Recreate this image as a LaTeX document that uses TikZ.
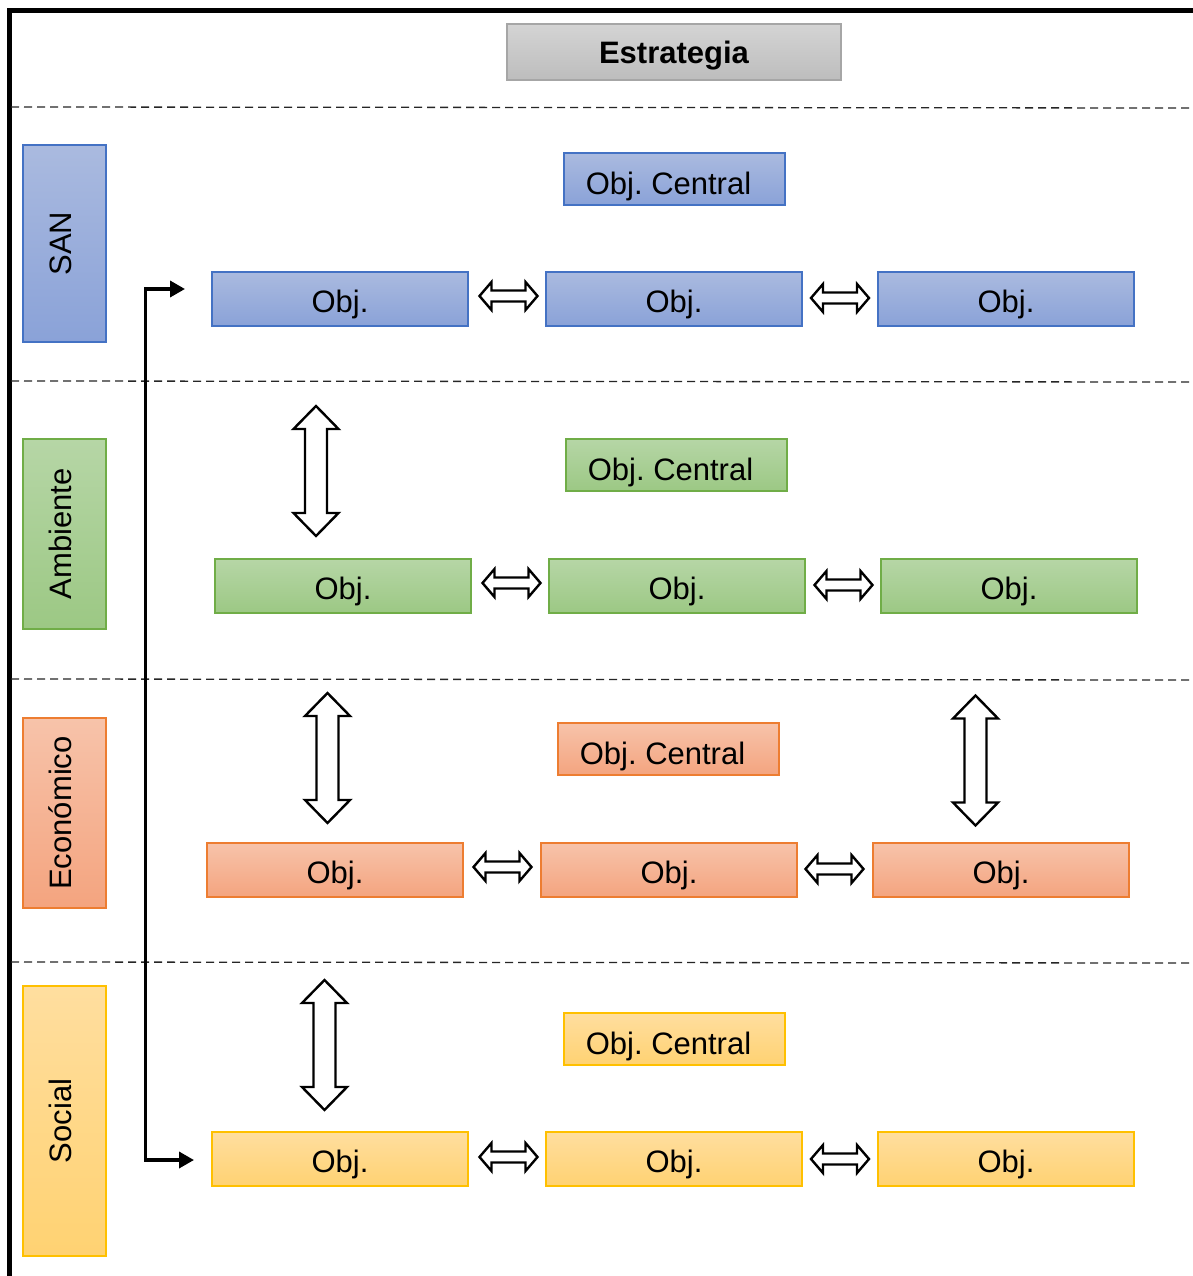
\documentclass[tikz,border=0pt]{standalone}
\usepackage{fontspec}
\setmainfont{Liberation Sans}
\usetikzlibrary{arrows.meta}
\frenchspacing
\definecolor{bluetop}{HTML}{AABADF}
\definecolor{bluebot}{HTML}{8AA2D8}
\definecolor{blueline}{HTML}{4472C4}
\definecolor{greentop}{HTML}{B6D6A6}
\definecolor{greenbot}{HTML}{9CC884}
\definecolor{greenline}{HTML}{70AD47}
\definecolor{orangetop}{HTML}{F7C3AA}
\definecolor{orangebot}{HTML}{F4A47F}
\definecolor{orangeline}{HTML}{ED7D31}
\definecolor{yellowtop}{HTML}{FFDE9F}
\definecolor{yellowbot}{HTML}{FFD272}
\definecolor{yellowline}{HTML}{FFC000}
\definecolor{graytop}{HTML}{D4D4D4}
\definecolor{graybot}{HTML}{BDBDBD}
\definecolor{grayline}{HTML}{A6A6A6}
\newcommand{\bigfont}{\fontsize{31}{37}\selectfont}
\tikzset{
  basebox/.style={rectangle, line width=1.4pt, inner sep=0pt, font=\bigfont, text=black},
  objbox/.style={basebox, minimum width=256, minimum height=54, text height=26pt, text depth=0pt},
  centralbox/.style={basebox, minimum width=221, minimum height=52, text height=30pt, text depth=0pt},
  sidebox/.style={basebox, minimum width=83},
  blueset/.style={draw=blueline, top color=bluetop, bottom color=bluebot},
  greenset/.style={draw=greenline, top color=greentop, bottom color=greenbot},
  orangeset/.style={draw=orangeline, top color=orangetop, bottom color=orangebot},
  yellowset/.style={draw=yellowline, top color=yellowtop, bottom color=yellowbot},
  separator/.style={line width=1.3pt, black!85, dash pattern=on 8pt off 5pt},
  blockarrow/.style={draw=black, fill=white, line width=2.4pt, line join=miter},
  flowline/.style={line width=3.5pt, {Triangle[length=15pt,width=16pt]}-{Triangle[length=15pt,width=16pt]}},
  pics/harrow/.style={code={
    \path[blockarrow] (-29,0) -- (-17,-14) -- (-17,-5.5) -- (17,-5.5) -- (17,-14) -- (29,0)
      -- (17,14) -- (17,5.5) -- (-17,5.5) -- (-17,14) -- cycle;}},
  pics/varrow/.style={code={
    \path[blockarrow] (0,-65) -- (22.5,-42) -- (11,-42) -- (11,42) -- (22.5,42) -- (0,65)
      -- (-22.5,42) -- (-11,42) -- (-11,-42) -- (-22.5,-42) -- cycle;}}
}
\begin{document}
\begin{tikzpicture}[x=1pt,y=-1pt]
\useasboundingbox (0,0) rectangle (1192,1276);
\fill[white] (0,0) rectangle (1192,1276);

% frame
\draw[line width=5pt] (9,1280) -- (9,10.5) -- (1196,10.5);

% separators
\draw[separator] (11,107) -- (1192,108);
\draw[separator] (11,381) -- (1192,382);
\draw[separator] (11,679) -- (1192,680);
\draw[separator] (11,962) -- (1192,963);

% title
\node[basebox, draw=grayline, top color=graytop, bottom color=graybot,
      minimum width=334, minimum height=56, text height=22.2pt, text depth=0pt,
      font=\bigfont\bfseries] (estr) at (674,52) {Estrategia};

% side labels
\node[sidebox, blueset, minimum height=197] (san) at (64.5,243.5) {\rotatebox{90}{\strut SAN}};
\node[sidebox, greenset, minimum height=190] (amb) at (64.5,534) {\rotatebox{90}{\strut Ambiente}};
\node[sidebox, orangeset, minimum height=190] (eco) at (64.5,813) {\rotatebox{90}{\strut Económico}};
\node[sidebox, yellowset, minimum height=270] (soc) at (64.5,1121) {\rotatebox{90}{\strut Social}};

% central objectives
\node[centralbox, blueset] (c1) at (674.5,179) {Obj. Central\hspace*{12pt}};
\node[centralbox, greenset] (c2) at (676.5,465) {Obj. Central\hspace*{12pt}};
\node[centralbox, orangeset] (c3) at (668.5,749) {Obj. Central\hspace*{12pt}};
\node[centralbox, yellowset] (c4) at (674.5,1039) {Obj. Central\hspace*{12pt}};

% objective rows
\node[objbox, blueset] (o11) at (340,299) {Obj.};
\node[objbox, blueset] (o12) at (674,299) {Obj.};
\node[objbox, blueset] (o13) at (1006,299) {Obj.};
\node[objbox, greenset] (o21) at (343,586) {Obj.};
\node[objbox, greenset] (o22) at (677,586) {Obj.};
\node[objbox, greenset] (o23) at (1009,586) {Obj.};
\node[objbox, orangeset] (o31) at (335,870) {Obj.};
\node[objbox, orangeset] (o32) at (669,870) {Obj.};
\node[objbox, orangeset] (o33) at (1001,870) {Obj.};
\node[objbox, yellowset] (o41) at (340,1159) {Obj.};
\node[objbox, yellowset] (o42) at (674,1159) {Obj.};
\node[objbox, yellowset] (o43) at (1006,1159) {Obj.};

% horizontal block arrows
\pic at (508.5,296) {harrow};
\pic at (840,298) {harrow};
\pic at (511.5,583) {harrow};
\pic at (843.5,585) {harrow};
\pic at (502.5,867) {harrow};
\pic at (834.5,869) {harrow};
\pic at (508.5,1157) {harrow};
\pic at (840,1159) {harrow};

% vertical block arrows
\pic at (316,471) {varrow};
\pic at (327.5,758) {varrow};
\pic at (975.5,760.5) {varrow};
\pic at (324.5,1045) {varrow};

% connector
\coordinate (ctop) at (185,289);
\coordinate (cbot) at (194,1160);
\draw[flowline] (ctop) -- ++(-39.5,0) |- (cbot);
\end{tikzpicture}
\end{document}
